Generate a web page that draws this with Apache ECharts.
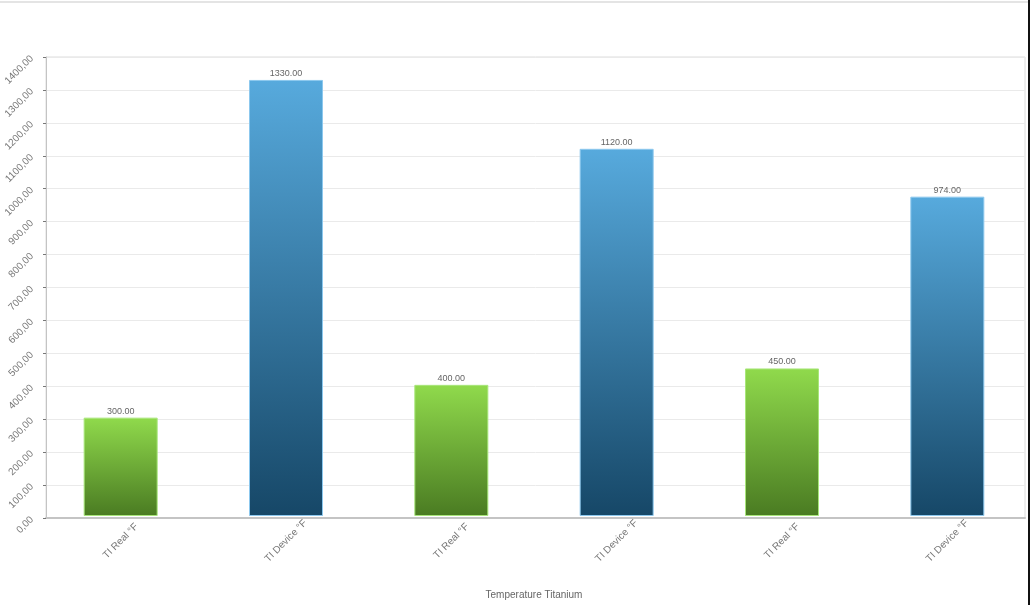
<!DOCTYPE html>
<html>
<head>
<meta charset="utf-8">
<script src="https://cdn.jsdelivr.net/npm/echarts@6/dist/echarts.min.js"></script>
<style>html,body{margin:0;padding:0;background:#fff}#c{width:1030px;height:605px}</style>
</head>
<body>
<div id="c"></div>
<script>
const categories = ["TI Real °F", "TI Device °F", "TI Real °F", "TI Device °F", "TI Real °F", "TI Device °F"];
const values = [300, 1330, 400, 1120, 450, 974];
const kinds = ["real", "device", "real", "device", "real", "device"];
const axisName = "Temperature Titanium";

const grads = {
  real: new echarts.graphic.LinearGradient(0, 0, 0, 1, [
    {offset: 0, color: '#90da4c'}, {offset: 1, color: '#4a7b22'}]),
  device: new echarts.graphic.LinearGradient(0, 0, 0, 1, [
    {offset: 0, color: '#57aadd'}, {offset: 1, color: '#164767'}])
};
const borders = {real: '#a8e67a', device: '#8cc8ee'};
const font = 'Liberation Sans';

const chart = echarts.init(document.getElementById('c'));
chart.setOption({
  animation: false,
  backgroundColor: '#fff',
  grid: [
    {left: 46, right: 5, top: 57, bottom: 87, show: true, borderColor: '#dcdcdc', borderWidth: 1},
    {left: 38, width: 995, top: 57, bottom: 87}
  ],
  graphic: [
    {type: 'rect', shape: {x: 0, y: 1, width: 1030, height: 2}, style: {fill: '#e4e4e4'}},
    {type: 'rect', shape: {x: 1028, y: 0, width: 2, height: 605}, style: {fill: '#111'}}
  ],
  xAxis: [{
    gridIndex: 0,
    type: 'category',
    data: categories,
    axisLine: {lineStyle: {color: '#c4c4c4', width: 2}},
    axisTick: {show: false},
    axisLabel: {show: false}
  }, {
    gridIndex: 1,
    type: 'category',
    data: categories,
    name: axisName,
    nameLocation: 'middle',
    nameGap: 74,
    nameTextStyle: {color: '#666', fontSize: 10, fontFamily: font},
    axisLine: {show: false},
    axisTick: {show: false},
    axisLabel: {rotate: 45, align: 'center', verticalAlign: 'middle', color: '#777', fontSize: 10,
      fontFamily: font, margin: 25, interval: 0}
  }],
  yAxis: [{
    gridIndex: 0,
    type: 'value',
    min: 0, max: 1400, interval: 100,
    axisLine: {show: true, lineStyle: {color: '#c4c4c4', width: 1}},
    axisTick: {show: true, length: 3, lineStyle: {color: '#777'}},
    splitLine: {lineStyle: {color: '#eaeaea'}},
    axisLabel: {rotate: 45, color: '#777', fontSize: 10, fontFamily: font, margin: 14,
      formatter: v => v.toFixed(2).replace('.', ',')}
  }, {
    gridIndex: 1,
    type: 'value',
    min: 0, max: 1400, interval: 100,
    show: false
  }],
  series: [{
    type: 'bar',
    xAxisIndex: 1,
    yAxisIndex: 1,
    barWidth: 74,
    data: values.map((v, i) => ({
      value: v,
      itemStyle: {color: grads[kinds[i]], borderColor: borders[kinds[i]], borderWidth: 1}
    })),
    label: {show: true, position: 'top', distance: 2, color: '#666', fontSize: 9, fontFamily: font,
      formatter: p => p.value.toFixed(2)}
  }]
});
</script>
</body>
</html>
